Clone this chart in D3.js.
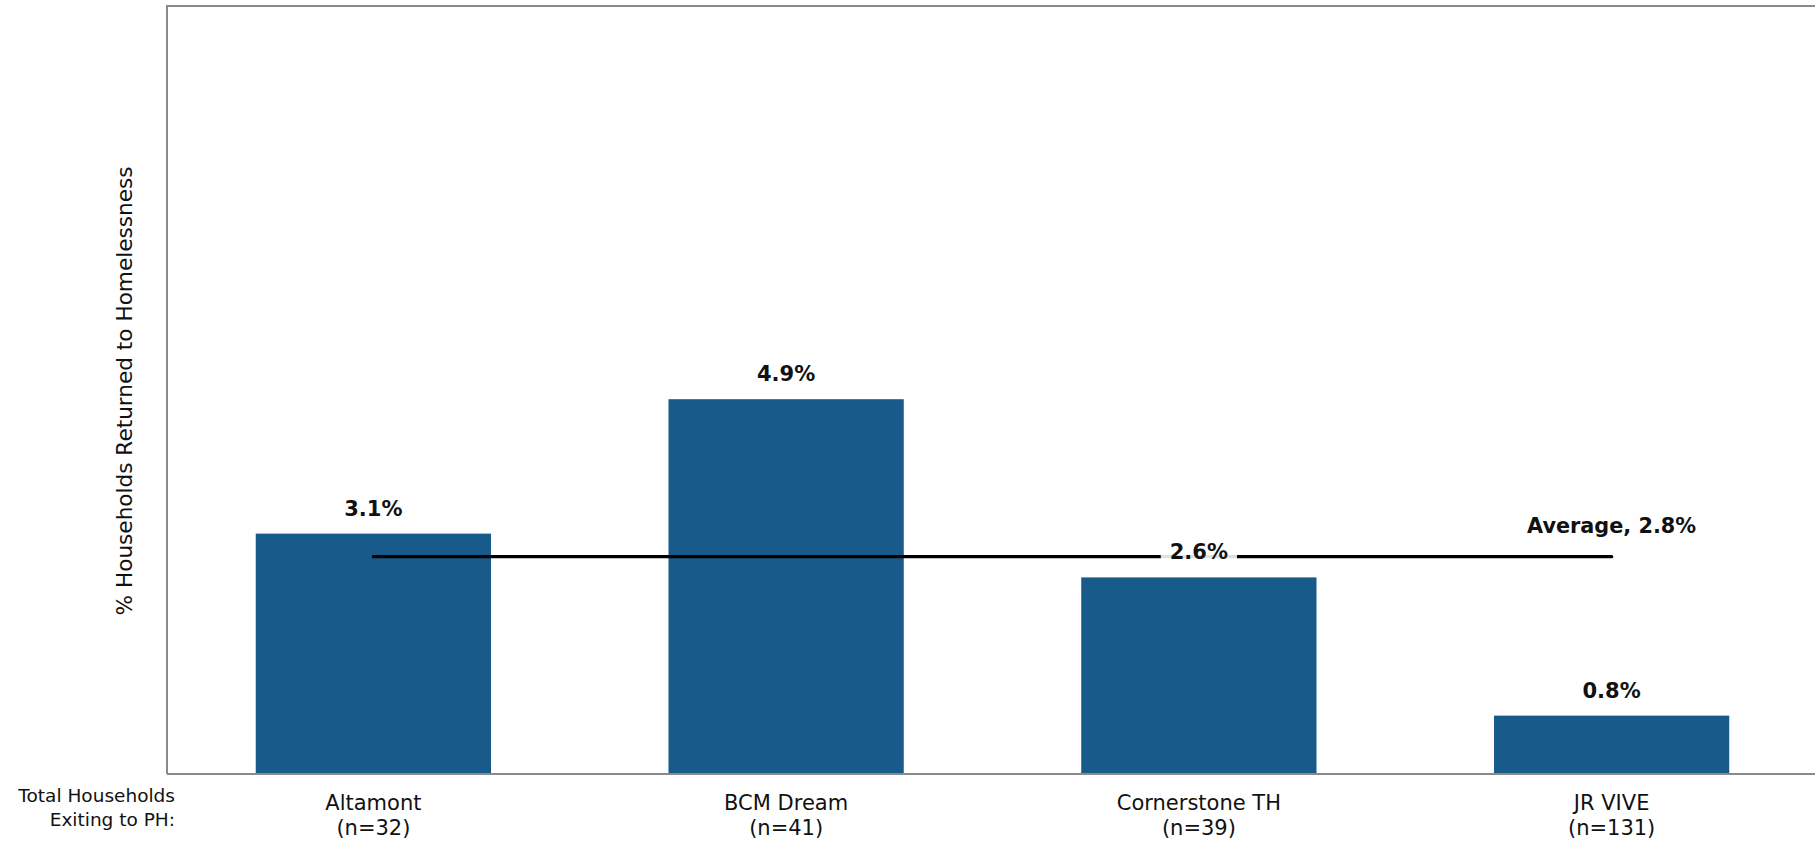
<!DOCTYPE html>
<html>
<head>
<meta charset="utf-8">
<script src="https://cdn.jsdelivr.net/npm/d3@7"></script>
<style>
  html, body { margin: 0; padding: 0; background: #fff; }
  svg { display: block; font-family: "DejaVu Sans", sans-serif; }
</style>
</head>
<body>
<svg id="chart" width="1815" height="842"></svg>
<script>
// ---- data ----
const categories = ["Altamont", "BCM Dream", "Cornerstone TH", "JR VIVE"];
const counts = ["(n=32)", "(n=41)", "(n=39)", "(n=131)"];
const values = [3.13, 4.88, 2.56, 0.76];
const valueLabels = ["3.1%", "4.9%", "2.6%", "0.8%"];
const average = 2.83;
const averageLabel = "Average, 2.8%";
const yDomain = [0, 10];
const yTitle = "% Households Returned to Homelessness";
const xRowTitle = ["Total Households", "Exiting to PH:"];

// ---- layout ----
const plotLeft = 167, plotRight = 1818, plotTop = 6, plotBottom = 774;
const barColor = "#185a89";
const frameColor = "#8a8a8a";

const svg = d3.select("#chart");

const x = d3.scaleBand().domain(categories).range([plotLeft, plotRight])
  .paddingInner(0.43).paddingOuter(0.215);
const y = d3.scaleLinear().domain(yDomain).range([plotBottom, plotTop]);

// frame (left + top)
svg.append("path")
  .attr("d", `M${plotLeft},${plotBottom}V${plotTop}H${plotRight + 5}`)
  .attr("fill", "none").attr("stroke", frameColor).attr("stroke-width", 2);

// bars
svg.append("g").selectAll("rect").data(categories).join("rect")
  .attr("x", d => x(d))
  .attr("width", x.bandwidth())
  .attr("y", (d, i) => y(values[i]))
  .attr("height", (d, i) => y(0) - y(values[i]))
  .attr("fill", barColor);

// bottom axis
const xAxis = d3.axisBottom(x).tickSize(0).tickSizeOuter(0).tickPadding(0);
const gx = svg.append("g").attr("transform", `translate(0,${plotBottom})`).call(xAxis);
gx.select(".domain").attr("stroke", frameColor).attr("stroke-width", 2)
  .attr("d", `M${plotLeft},0H${plotRight + 5}`);
gx.selectAll(".tick text").each(function(d, i) {
  const t = d3.select(this);
  t.text(null).attr("y", 0).attr("dy", null)
    .attr("font-family", "DejaVu Sans, sans-serif")
    .attr("font-size", 21).attr("fill", "#111");
  t.append("tspan").attr("x", 0).attr("y", 36).text(d);
  t.append("tspan").attr("x", 0).attr("y", 61).text(counts[i]);
});

// row title for x labels
const rt = svg.append("text").attr("text-anchor", "end")
  .attr("font-size", 18.5).attr("fill", "#111");
rt.append("tspan").attr("x", 175).attr("y", 802).text(xRowTitle[0]);
rt.append("tspan").attr("x", 175).attr("y", 826).text(xRowTitle[1]);

// y axis title
svg.append("text")
  .attr("transform", `translate(132,${(plotTop + plotBottom) / 2 + 1}) rotate(-90)`)
  .attr("text-anchor", "middle")
  .attr("font-size", 21.6).attr("fill", "#111")
  .text(yTitle);

// average line
const cx = d => x(d) + x.bandwidth() / 2;
svg.append("line")
  .attr("x1", cx(categories[0])).attr("x2", cx(categories[categories.length - 1]))
  .attr("y1", y(average)).attr("y2", y(average))
  .attr("stroke", "#000").attr("stroke-width", 3.4).attr("stroke-linecap", "round");

// average label
svg.append("text")
  .attr("x", cx(categories[categories.length - 1]))
  .attr("y", y(average) - 24)
  .attr("text-anchor", "middle").attr("font-weight", "bold")
  .attr("font-size", 20.8).attr("fill", "#111")
  .text(averageLabel);

// value labels (with background box to break the average line)
const lg = svg.append("g");
categories.forEach((c, i) => {
  const g = lg.append("g");
  const t = g.append("text")
    .attr("x", cx(c)).attr("y", y(values[i]) - 18)
    .attr("text-anchor", "middle").attr("font-weight", "bold")
    .attr("font-size", 21).attr("fill", "#111")
    .text(valueLabels[i]);
  const bb = t.node().getBBox();
  const avgY = y(average);
  if (avgY > bb.y - 4 && avgY < bb.y + bb.height + 4) {
    g.insert("rect", "text")
      .attr("x", bb.x - 9).attr("width", bb.width + 18)
      .attr("y", bb.y).attr("height", bb.height)
      .attr("fill", "#fff").attr("fill-opacity", 0.88);
  }
});
</script>
</body>
</html>
